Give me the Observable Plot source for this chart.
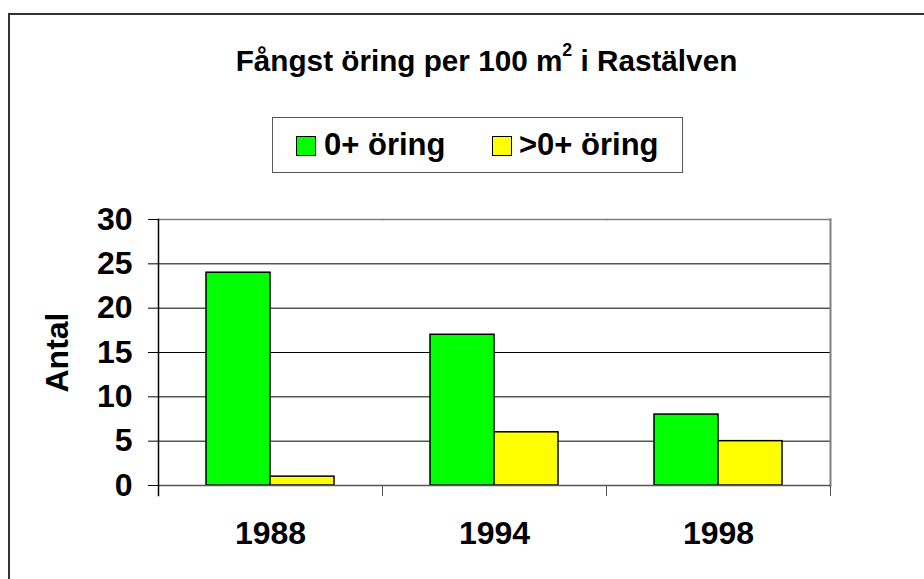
<!DOCTYPE html>
<html>
<head>
<meta charset="utf-8">
<script src="https://cdn.jsdelivr.net/npm/d3@7"></script>
<script src="https://cdn.jsdelivr.net/npm/@observablehq/plot@0.6"></script>
<style>
  html, body { margin: 0; padding: 0; background: #fff; }
  body { width: 924px; height: 579px; position: relative; overflow: hidden;
         font-family: "Liberation Sans", Arial, sans-serif; }
  #box { position: absolute; left: 8px; top: 13px; right: -10px; bottom: -10px;
         border-left: 2px solid #333; border-top: 2px solid #333; }
  #title { position: absolute; left: 0; width: 973px; top: 46px; text-align: center;
           font-size: 29.7px; line-height: 30px; font-weight: bold; color: #000; z-index: 2; }
  #title sup { font-size: 0.6em; line-height: 0; position: relative; top: -0.25em; }
  #legend { position: absolute; left: 272px; top: 117px; width: 411px; height: 56px;
            box-sizing: border-box; border: 1.5px solid #555; z-index: 2; }
  .sw { position: absolute; width: 20px; height: 20px; box-sizing: border-box;
        border: 1.5px solid #000; top: 136px; z-index: 3; }
  .lt { position: absolute; top: 129px; font-size: 31px; line-height: 31px;
        font-weight: bold; white-space: nowrap; z-index: 3; }
  #chart { position: absolute; left: 0; top: 0; z-index: 1; }
</style>
</head>
<body>
<div id="box"></div>
<div id="title"></div>
<div id="legend"></div>
<div id="chart"></div>
<script>
const titleText = "Fångst öring per 100 m";
const titleSup = "2";
const titleRest = " i Rastälven";
const yLabel = "Antal";
const years = ["1988", "1994", "1998"];
const series = ["0+ öring", ">0+ öring"];
const colors = ["#00ff00", "#ffff00"];
const values0 = [24, 17, 8];   // 0+ öring
const values1 = [1, 6, 5];     // >0+ öring
const yTicks = [0, 5, 10, 15, 20, 25, 30];

// title
const t = document.getElementById("title");
t.append(titleText);
const sup = document.createElement("sup"); sup.textContent = titleSup; t.append(sup);
t.append(titleRest);

// legend
const swLeft = [296, 492];
const txLeft = [324, 519];
series.forEach((s, i) => {
  const sw = document.createElement("div");
  sw.className = "sw"; sw.style.left = swLeft[i] + "px"; sw.style.background = colors[i];
  document.body.append(sw);
  const lt = document.createElement("div");
  lt.className = "lt"; lt.style.left = txLeft[i] + "px"; lt.textContent = s;
  document.body.append(lt);
});

const data = [];
years.forEach((y, i) => {
  data.push({year: y, series: series[0], value: values0[i]});
  data.push({year: y, series: series[1], value: values1[i]});
});

const W = 924, H = 579;
const mTop = 219, mBottom = 94, mLeft = 157, mRight = 93;
const plotH = H - mTop - mBottom;

const plot = Plot.plot({
  width: W, height: H,
  marginTop: mTop, marginBottom: mBottom, marginLeft: mLeft, marginRight: mRight,
  style: {background: "none", fontFamily: "'Liberation Sans', Arial, sans-serif", color: "#000"},
  fx: {domain: years, padding: 0, axis: null},
  x: {domain: series, paddingInner: 0, paddingOuter: 0.747, axis: null},
  y: {domain: [0, 30], axis: null},
  color: {domain: series, range: colors},
  marks: [
    Plot.ruleY(yTicks.filter(d => d > 0 && d < 30), {stroke: "#000", strokeWidth: 1}),
    Plot.frame({anchor: "top", stroke: "#808080", strokeWidth: 1.5}),
    Plot.frame({anchor: "right", facetAnchor: "right", stroke: "#808080", strokeWidth: 2}),
    Plot.barY(data, {fx: "year", x: "series", y: "value", fill: "series",
      stroke: "#000", strokeWidth: 1.5}),
    Plot.ruleY([0], {stroke: "#555", strokeWidth: 1.5}),
    Plot.frame({anchor: "left", stroke: "#555", strokeWidth: 1, insetTop: plotH, insetBottom: -10}),
    Plot.frame({anchor: "right", stroke: "#555", strokeWidth: 1, insetTop: plotH, insetBottom: -10}),
    Plot.frame({anchor: "left", facetAnchor: "left", stroke: "#000", strokeWidth: 1.5, insetBottom: -10}),
    Plot.axisY({ticks: yTicks, tickSize: 10, tickPadding: 16, fontSize: 32, fontWeight: "bold",
      label: yLabel, labelAnchor: "center", labelOffset: 113, labelArrow: "none", stroke: "#000"}),
    Plot.axisFx({anchor: "bottom", tickSize: 0, tickPadding: 36, fontSize: 32, fontWeight: "bold", label: null})
  ]
});
document.getElementById("chart").append(plot);
</script>
</body>
</html>
